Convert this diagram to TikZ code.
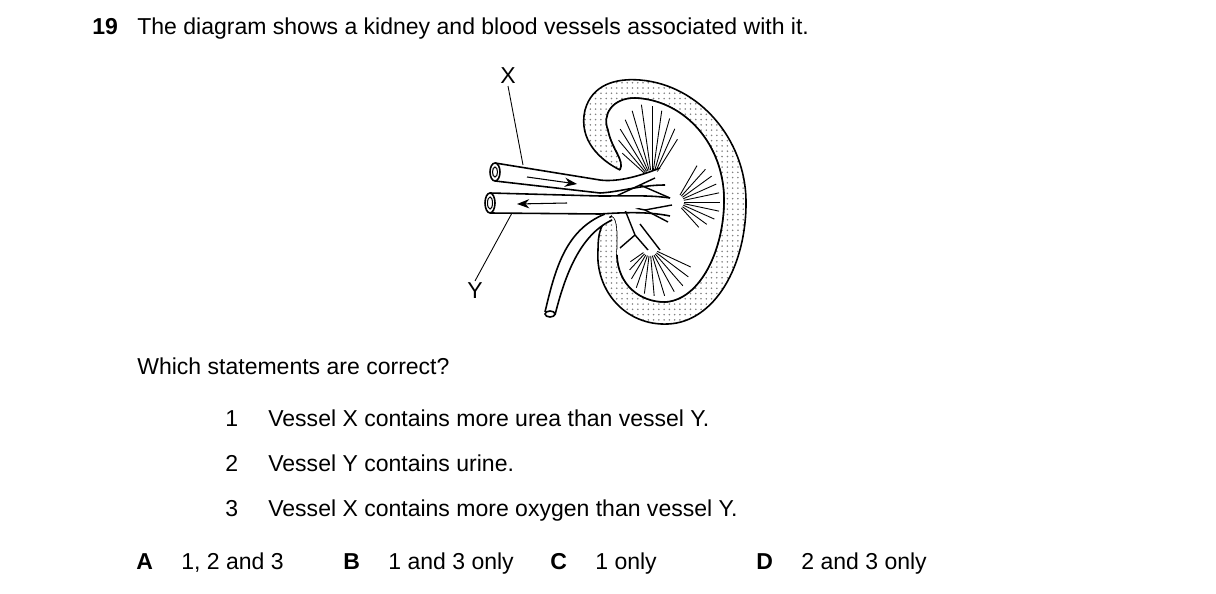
\documentclass[tikz,border=0pt]{standalone}
\usepackage{fontspec}
\setmainfont{Liberation Sans}
\usetikzlibrary{patterns, arrows.meta, calc}
\begin{document}
\begin{tikzpicture}[x=0.02cm, y=-0.02cm,
  txt/.style={anchor=base west, inner sep=0pt, font=\fontsize{13.1}{16}\selectfont},
  lbl/.style={inner sep=1pt, font=\fontsize{13.1}{16}\selectfont},
  tube/.style={line width=0.9pt, fill=white},
  vein/.style={line width=0.5pt}]
\useasboundingbox (0,0) rectangle (1216,594);

% QUESTION
\node[txt] (qnum) at (92,35) {\textbf{19}};
\node[txt] (qtext) at (137,35) {The diagram shows a kidney and blood vessels associated with it.};

% KIDNEY
\path[draw, line width=0.9pt, pattern=dots, pattern color=gray]
  (620,170) .. controls (600,160) and (578,140) .. (585,110)
  .. controls (592,85) and (615,78) .. (640,80)
  .. controls (700,85) and (745,140) .. (746,200)
  .. controls (747,265) and (715,322) .. (668,324)
  .. controls (625,326) and (595,290) .. (598,250)
  .. controls (598,235) and (600,222) .. (612,216)
  .. controls (618,218) and (618,235) .. (617,255)
  .. controls (618,285) and (640,302) .. (665,302)
  .. controls (700,300) and (724,250) .. (724,200)
  .. controls (724,145) and (685,100) .. (635,98)
  .. controls (612,98) and (602,115) .. (608,130)
  .. controls (612,150) and (625,160) .. (620,170) -- cycle;
\fill[white] (617,255) .. controls (618,285) and (640,302) .. (665,302)
  .. controls (700,300) and (724,250) .. (724,200)
  .. controls (724,145) and (685,100) .. (635,98)
  .. controls (612,98) and (602,115) .. (608,130)
  .. controls (612,150) and (625,160) .. (620,170)
  -- (612,216) .. controls (618,218) and (618,235) .. (617,255);
\draw[line width=0.9pt] (617,255) .. controls (618,285) and (640,302) .. (665,302)
  .. controls (700,300) and (724,250) .. (724,200)
  .. controls (724,145) and (685,100) .. (635,98)
  .. controls (612,98) and (602,115) .. (608,130)
  .. controls (612,150) and (625,160) .. (620,170);

% fans
\foreach \a/\r in {222/40,230/52,238/60,246/66,254/72,262/76,270/74,278/70,286/64,294/56,302/48}
  \draw[vein] ($(652,180)+(\a:10)$) -- ++(\a:\r-10);
\foreach \a/\r in {-60/42,-48/44,-36/44,-24/44,-12/44,0/44,12/44,24/42,36/38,48/34}
  \draw[vein] ($(676,202)+(\a:8)$) -- ++(\a:\r-8);
\foreach \a/\r in {25/45,37/48,49/50,61/50,73/50,85/48,97/46,109/42,121/36,133/30,145/24}
  \draw[vein] ($(650,248)+(\a:8)$) -- ++(\a:\r-8);

% branches
\draw[vein, line width=0.8pt] (612,198) -- (640,185) -- (655,178);
\draw[vein, line width=0.8pt] (640,185) -- (670,198);
\draw[vein, line width=0.8pt] (615,204) -- (645,210) -- (672,205);
\draw[vein, line width=0.8pt] (645,210) -- (668,222);
\draw[vein, line width=0.8pt] (625,210) -- (635,235) -- (648,250);
\draw[vein, line width=0.8pt] (635,235) -- (620,248);
\draw[vein, line width=0.8pt] (640,224) -- (660,250);

% vessels
\path[tube] (495,163) -- (600,180) .. controls (615,182) and (635,178) .. (660,168)
  .. controls (640,185) and (620,192) .. (600,193) -- (495,181) -- cycle;
\draw[line width=0.9pt] (495,163) -- (600,180) .. controls (615,182) and (635,178) .. (660,168);
\draw[line width=0.9pt] (495,181) -- (600,193) .. controls (620,192) and (640,185) .. (665,185);
\path[tube] (490,193) -- (600,196) .. controls (630,196) and (650,195) .. (670,198)
  .. controls (650,205) and (630,212) .. (600,214) -- (490,213) -- cycle;
\draw[line width=0.9pt] (490,193) -- (600,196) .. controls (630,196) and (650,195) .. (670,198);
\draw[line width=0.9pt] (490,213) -- (600,214) .. controls (630,212) and (650,212) .. (670,216);
\draw[tube] (495,172) ellipse (5 and 9);
\draw[line width=0.6pt] (495,172) ellipse (2.5 and 5);
\draw[tube] (490,203) ellipse (5 and 10);
\draw[line width=0.6pt] (490,203) ellipse (2.5 and 6);

% ureter
\path[tube] (545,312) .. controls (555,270) and (565,230) .. (605,214)
  -- (612,220) .. controls (580,235) and (565,275) .. (555,315) -- cycle;
\draw[line width=0.9pt] (545,312) .. controls (555,270) and (565,230) .. (605,214);
\draw[line width=0.9pt] (555,315) .. controls (565,275) and (580,235) .. (612,220);
\draw[line width=0.9pt, fill=white] (550,314) ellipse (5 and 3);

% flow arrows
\draw[-{Stealth[length=7pt]}, line width=0.6pt] (527,177) -- (577,184);
\draw[-{Stealth[length=7pt]}, line width=0.6pt] (567,203) -- (517,204);

% LABELS
\node[lbl] (X) at (508,76) {X};
\node[lbl] (Y) at (475,291) {Y};
\coordinate (xend) at (523,165);
\coordinate (yend) at (512,213);
\draw[line width=0.5pt] (X.south) -- (xend);
\draw[line width=0.5pt] (Y.north) -- (yend);

% STATEMENTS
\node[txt] (ask) at (137,374) {Which statements are correct?};
\foreach \n/\y/\s in {1/426/{Vessel X contains more urea than vessel Y.},
                      2/471/{Vessel Y contains urine.},
                      3/516/{Vessel X contains more oxygen than vessel Y.}}{
  \node[txt] (n\n) at (225,\y) {\n};
  \node[txt] (s\n) at (268,\y) {\s};
}

% OPTIONS
\foreach \k/\x/\s in {A/136/{1, 2 and 3}, B/343/{1 and 3 only}, C/550/{1 only}, D/756/{2 and 3 only}}{
  \node[txt] (opt\k) at (\x,569) {\textbf{\k}};
  \node[txt] (ans\k) at (\x+45,569) {\s};
}
\end{tikzpicture}
\end{document}
